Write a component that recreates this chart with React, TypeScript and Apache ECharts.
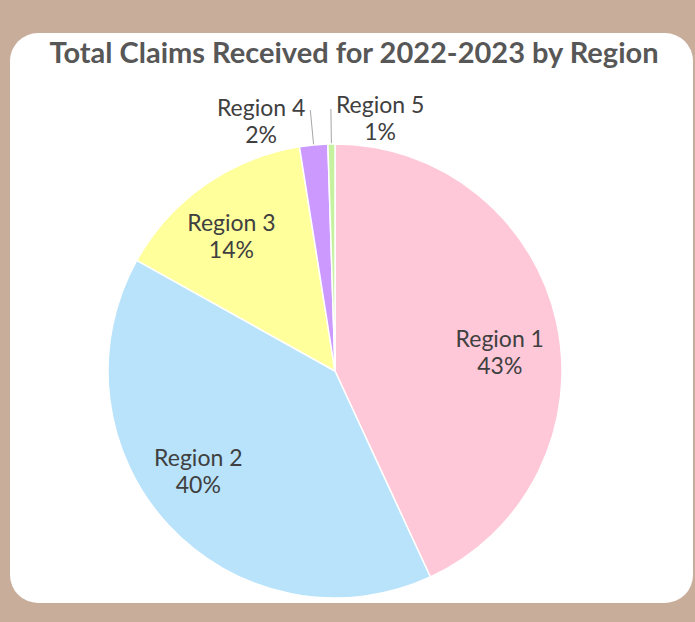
import { useEffect, useRef } from 'react';
import * as echarts from 'echarts';

const regions = ['Region 1', 'Region 2', 'Region 3', 'Region 4', 'Region 5'];
const claims = [4310, 4000, 1440, 200, 50];
const sliceColors = ['#FFC8D9', '#B8E3FB', '#FFFF9C', '#CC99FF', '#C6F2A0'];
const titleText = 'Total Claims Received for 2022-2023 by Region';

export default function App() {
  const ref = useRef<HTMLDivElement>(null);
  useEffect(() => {
    document.body.style.margin = '0';
    const chart = echarts.init(ref.current!, null, { renderer: 'svg' });
    const total = claims.reduce((a, b) => a + b, 0);
    const pct = (v: number) => `${Math.round((v / total) * 100)}%`;
    const R = 227;
    const center = [335, 371];
    const labelText = {
      color: '#404040',
      fontFamily: 'Lato',
      fontSize: 23,
      lineHeight: 27,
    };
    // small nudges for the inside labels (best-fit placement)
    const insideNudge = [
      [0, 17],
      [-13, -15],
      [-7, 3],
    ];
    chart.setOption({
      animation: false,
      backgroundColor: '#c9ad9b',
      graphic: [
        {
          type: 'rect',
          z: -10,
          shape: { x: 10, y: 33, width: 683, height: 570, r: 28 },
          style: { fill: '#ffffff' },
        },
        {
          type: 'text',
          x: 354,
          y: 51,
          style: {
            text: titleText,
            fill: '#575757',
            font: 'bold 29px Lato',
            textAlign: 'center',
            textVerticalAlign: 'middle',
          },
        },
      ],
      series: [
        {
          type: 'pie',
          center,
          radius: R,
          startAngle: 90,
          clockwise: true,
          avoidLabelOverlap: false,
          silent: true,
          emphasis: { disabled: true },
          itemStyle: { borderColor: '#ffffff', borderWidth: 1.5 },
          label: {
            position: 'outside',
            alignTo: 'none',
            distanceToLabelLine: 5,
            formatter: (p: any) => `${p.name}\n${pct(p.value)}`,
            ...labelText,
          },
          labelLine: {
            length: 35,
            length2: 0,
            lineStyle: { color: '#a6a6a6', width: 1 },
          },
          labelLayout: (p: any) => {
            if (p.dataIndex < 3 || !p.labelLinePoints) return {};
            const pts = p.labelLinePoints;
            const end = pts[pts.length - 1];
            const w = p.labelRect.width;
            const cx = p.dataIndex === 3 ? end[0] - 5 - w / 2 : end[0] + 5 + w / 2;
            return {
              x: cx,
              y: end[1] + (p.dataIndex === 3 ? 10 : 8),
              align: 'center',
              verticalAlign: 'middle',
              labelLinePoints: pts,
            };
          },
          data: regions.map((name, i) => ({
            name,
            value: claims[i],
            itemStyle: { color: sliceColors[i] },
            label: { show: i >= 3 },
            labelLine: { show: i >= 3 },
          })),
        },
        {
          type: 'pie',
          center,
          radius: [R * 0.46, R],
          startAngle: 90,
          clockwise: true,
          silent: true,
          z: 3,
          avoidLabelOverlap: false,
          emphasis: { disabled: true },
          itemStyle: { color: 'rgba(0,0,0,0)', borderWidth: 0 },
          label: {
            position: 'inside',
            formatter: (p: any) => `${p.name}\n${pct(p.value)}`,
            ...labelText,
          },
          labelLine: { show: false },
          labelLayout: (p: any) => {
            const n = insideNudge[p.dataIndex];
            return n ? { dx: n[0], dy: n[1] } : {};
          },
          data: regions.map((name, i) => ({
            name,
            value: claims[i],
            label: { show: i < 3 },
          })),
        },
      ],
    });
    return () => chart.dispose();
  }, []);
  return <div ref={ref} style={{ width: 695, height: 622 }} />;
}
